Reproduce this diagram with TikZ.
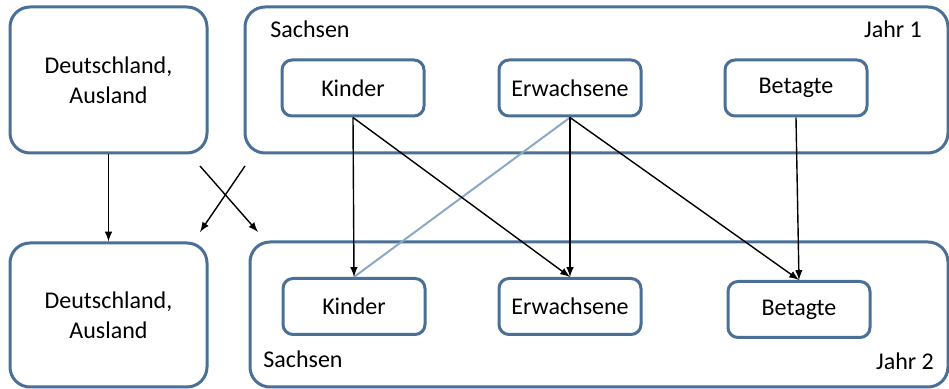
\documentclass[tikz,border=0pt]{standalone}
\usepackage{fontspec}
\setmainfont{Carlito}
\definecolor{rand}{RGB}{74,112,152}
\definecolor{hellblau}{RGB}{140,168,200}

\tikzset{
    kasten/.style={draw=rand, line width=1.5pt, rounded corners=10pt, fill=white},
    klein/.style={draw=rand, line width=1.5pt, rounded corners=5pt,
        minimum width=71pt, minimum height=28pt, font=\fontsize{12}{15}\selectfont},
    pfeil/.style={-latex, line width=0.7pt, black}
}

\begin{document}
\begin{tikzpicture}[x=0.5pt, y=-0.5pt, font=\fontsize{12}{15}\selectfont]
    \useasboundingbox (0,0) rectangle (949,389);
    % Jahr 1
    \node[kasten, minimum width=98.5pt, minimum height=73pt, align=center] (dt1) at (108.5,80) {Deutschland,\\Ausland};
    \node[kasten, minimum width=351.5pt, minimum height=73pt] (sa1) at (596.5,80) {};
    \node[anchor=base] at (310,38) {Sachsen};
    \node[anchor=base] at (893,38) {Jahr 1};
    \node[klein] (ki1) at (353,88) {Kinder};
    \node[klein] (er1) at (570,88) {Erwachsene};
    \node[klein] (be1) at (796,88) {Betagte};

    % Jahr 2
    \node[kasten, minimum width=98.5pt, minimum height=72pt, align=center] (dt2) at (108.5,315) {Deutschland,\\Ausland};
    \node[kasten, minimum width=349pt, minimum height=72.5pt] (sa2) at (599,314.5) {};
    \node[anchor=base] at (303,368) {Sachsen};
    \node[anchor=base] at (905,370) {Jahr 2};
    \node[klein] (ki2) at (354,306.5) {Kinder};
    \node[klein] (er2) at (570,306.5) {Erwachsene};
    \node[klein] (be2) at (799,309.5) {Betagte};

    % Wanderungen
    \draw[pfeil] (dt1.south) -- (dt2.north);
    \coordinate (xa) at (200,166);
    \coordinate (xb) at (258,232);
    \coordinate (xc) at (245,166);
    \coordinate (xd) at (200,232);
    \draw[pfeil] (xa) -- (xb);
    \draw[pfeil] (xc) -- (xd);

    \draw[hellblau, line width=1pt] (er1.south) -- (ki2.north);
    \draw[pfeil] (ki1.south) -- (ki2.north);
    \draw[pfeil] (ki1.south) -- (er2.north);
    \draw[pfeil] (er1.south) -- (er2.north);
    \draw[pfeil] (er1.south) -- (be2.north);
    \draw[pfeil] (be1.south) -- (be2.north);
\end{tikzpicture}
\end{document}
